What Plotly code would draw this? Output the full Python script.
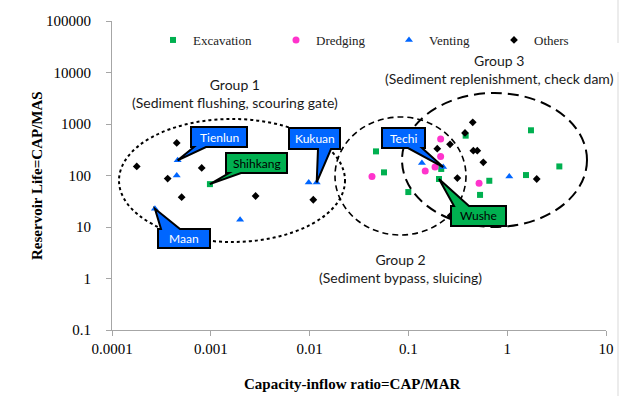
import math
import plotly.graph_objects as go

# ---------------- data ----------------
exc_x = [0.00098, 0.047, 0.0566, 0.0998, 0.204, 0.215, 0.38, 0.531, 0.659, 1.55, 1.74, 3.37]
exc_y = [68, 294, 115, 47.7, 85.5, 134, 594, 42, 79, 102, 755, 150]
dre_x = [0.0428, 0.148, 0.186, 0.212, 0.212, 0.519]
dre_y = [96, 122, 146, 235, 513, 71]
ven_x = [0.000272, 0.000452, 0.000462, 0.00198, 0.0098, 0.0118, 0.137, 0.225, 1.05]
ven_y = [22.6, 100, 197, 13.8, 73.5, 73.5, 175, 146, 96]
oth_x = [0.000178, 0.000366, 0.000452, 0.000507, 0.000809, 0.00284, 0.0109, 0.196,
         0.264, 0.268, 0.313, 0.374, 0.448, 0.454, 0.498, 0.573, 1.99]
oth_y = [150, 87, 429, 38, 140, 40, 33.8, 332, 403, 16.7, 89, 671, 1080, 304, 304, 180, 85.5]

x_tickvals = [0.0001, 0.001, 0.01, 0.1, 1, 10]
x_ticktext = ["0.0001", "0.001", "0.01", "0.1", "1", "10"]
y_tickvals = [0.1, 1, 10, 100, 1000, 10000, 100000]
y_ticktext = ["0.1", "1", "10", "100", "1000", "10000", "100000"]

# ---------------- layout geometry ----------------
W, H = 624, 399
L, R, T, B = 112, 18, 21, 69
PW, PH = W - L - R, H - T - B
XR = [-4, 1]
YR = [-1, 5]

def paper(px, py):
    return (px - L) / PW, (H - B - py) / PH

def data_paper(x, y):
    return ((math.log10(x) - XR[0]) / (XR[1] - XR[0]),
            (math.log10(y) - YR[0]) / (YR[1] - YR[0]))

BLUE = "#0066FF"
GREEN = "#00B050"
PINK = "#FF33CC"
SERIF = "Liberation Serif, Times New Roman, DejaVu Serif, serif"
SANS = "Lato"

fig = go.Figure()
fig.add_trace(go.Scatter(x=exc_x, y=exc_y, mode="markers", name="Excavation",
                         marker=dict(symbol="square", size=6, color=GREEN), legend="legend"))
fig.add_trace(go.Scatter(x=dre_x, y=dre_y, mode="markers", name="Dredging",
                         marker=dict(symbol="circle", size=7, color=PINK), legend="legend2"))
fig.add_trace(go.Scatter(x=ven_x, y=ven_y, mode="markers", name="Venting",
                         marker=dict(symbol="triangle-up", size=7, color=BLUE), legend="legend3"))
fig.add_trace(go.Scatter(x=oth_x, y=oth_y, mode="markers", name="Others",
                         marker=dict(symbol="diamond", size=6, color="black"), legend="legend4"))

shapes = []
# group ellipses
for (x0, y0, x1, y1, dash, w) in [
    (119, 242, 345, 119, "dot", 2),
    (335, 235, 466, 117, "6px,4px", 1.6),
    (402, 227, 587, 93, "11px,6px", 2),
]:
    a0, b0 = paper(x0, y0)
    a1, b1 = paper(x1, y1)
    shapes.append(dict(type="circle", xref="paper", yref="paper", x0=a0, y0=b0, x1=a1, y1=b1,
                       line=dict(color="black", width=w, dash=dash), layer="above"))

# callouts: name, box (l, t, r, b) px, wedge base points px, target point, colors
callouts = [
    ("Tienlun", (191, 127, 247, 147), ((206, 147), (194, 147)), (ven_x[2], ven_y[2]), BLUE, "white"),
    ("Shihkang", (226, 153, 287, 173), ((241, 173), (229, 173)), (exc_x[0], exc_y[0]), GREEN, "black"),
    ("Kukuan", (289, 128, 340, 149), ((331, 149), (318, 149)), (ven_x[5], ven_y[5]), BLUE, "white"),
    ("Maan", (158, 229, 210, 248), ((161, 229), (180, 229)), (ven_x[0], ven_y[0]), BLUE, "white"),
    ("Techi", (382, 128, 425, 148), ((422, 148), (408, 148)), (ven_x[7], ven_y[7]), BLUE, "white"),
    ("Wushe", (451, 206, 506, 226), ((454, 206), (469, 206)), (exc_x[4], exc_y[4]), GREEN, "black"),
]
annotations = []
for name, (l, t, r, b), (p1, p2), (tx, ty), fill, tcol in callouts:
    tip = data_paper(tx, ty)
    if p1[1] == b:  # wedge on the bottom edge
        pts = [(l, t), (r, t), (r, b), p1, None, p2, (l, b)]
    else:           # wedge on the top edge
        pts = [(l, t), p1, None, p2, (r, t), (r, b), (l, b)]
    coords = []
    for p in pts:
        coords.append(tip if p is None else paper(*p))
    path = "M " + " L ".join(f"{cx:.5f},{cy:.5f}" for cx, cy in coords) + " Z"
    shapes.append(dict(type="path", xref="paper", yref="paper", path=path,
                       fillcolor=fill, line=dict(color="black", width=2), layer="above"))
    cx, cy = paper((l + r) / 2, (t + b) / 2)
    annotations.append(dict(xref="paper", yref="paper", x=cx, y=cy, text=name, showarrow=False,
                            font=dict(family=SANS, size=12, color=tcol), xanchor="center", yanchor="middle"))

# chart-area right border
for y0, y1 in [(0, 43), (72, 396)]:
    a0, b0 = paper(618, y0)
    a1, b1 = paper(618, y1)
    shapes.append(dict(type="line", xref="paper", yref="paper", x0=a0, y0=b0, x1=a1, y1=b1,
                       line=dict(color="#D9D9D9", width=1)))

# group labels
for text, (gx, gy) in [
    ("Group 1<br>(Sediment flushing, scouring gate)", (235, 93)),
    ("Group 3<br>(Sediment replenishment, check dam)", (499, 69)),
    ("Group 2<br>(Sediment bypass, sluicing)", (400, 268)),
]:
    ax_, ay_ = paper(gx, gy)
    annotations.append(dict(xref="paper", yref="paper", x=ax_, y=ay_, text=text, showarrow=False,
                            font=dict(family=SANS, size=14, color="#1a1a1a"),
                            xanchor="center", yanchor="middle", align="center"))

# axis titles placed explicitly
ytx, yty = paper(37, 176)
annotations.append(dict(xref="paper", yref="paper", x=ytx, y=yty, text="<b>Reservoir Life=CAP/MAS</b>",
                        textangle=-90, showarrow=False, xanchor="center", yanchor="middle",
                        font=dict(family=SERIF, size=15, color="black")))
xtx, xty = paper(352, 384)
annotations.append(dict(xref="paper", yref="paper", x=xtx, y=xty, text="<b>Capacity-inflow ratio=CAP/MAR</b>",
                        showarrow=False, xanchor="center", yanchor="middle",
                        font=dict(family=SERIF, size=15, color="black")))

# legends
legend_common = dict(orientation="v", xanchor="left", yanchor="middle", bgcolor="rgba(0,0,0,0)",
                     font=dict(family=SERIF, size=13, color="#222"), itemwidth=30,
                     borderwidth=0, tracegroupgap=0)
leg = {}
for key, px_ in [("legend", 153), ("legend2", 276), ("legend3", 389), ("legend4", 494)]:
    lx, ly = paper(px_, 40)
    leg[key] = dict(legend_common, x=lx, y=ly)

fig.update_layout(
    width=W, height=H,
    margin=dict(l=L, r=R, t=T, b=B, pad=0, autoexpand=False),
    paper_bgcolor="white", plot_bgcolor="white",
    showlegend=True,
    shapes=shapes, annotations=annotations,
    **leg,
    xaxis=dict(type="log", range=XR, tickvals=x_tickvals, ticktext=x_ticktext, automargin=False,
               showgrid=False, zeroline=False, showline=True, linecolor="#A6A6A6", linewidth=1,
               ticks="outside", ticklen=5, tickcolor="#A6A6A6", ticklabelstandoff=0,
               tickfont=dict(family=SERIF, size=15, color="black")),
    yaxis=dict(type="log", range=YR, tickvals=y_tickvals, ticktext=y_ticktext, automargin=False,
               showgrid=False, zeroline=False, showline=True, linecolor="#A6A6A6", linewidth=1,
               ticks="outside", ticklen=5, tickcolor="#A6A6A6", ticklabelstandoff=12,
               tickfont=dict(family=SERIF, size=15, color="black")),
)

fig.write_html("out.html", post_script="document.body.style.margin='0';",
               config={"displayModeBar": False})
